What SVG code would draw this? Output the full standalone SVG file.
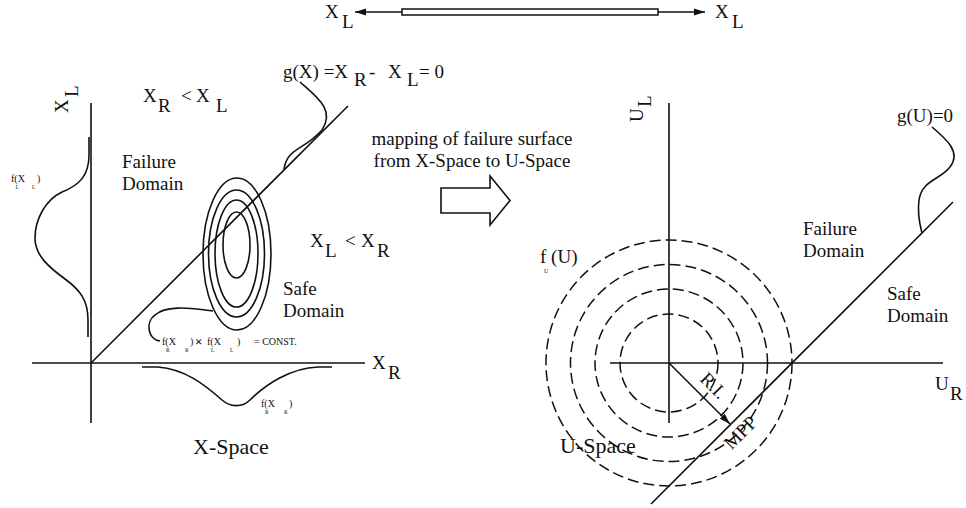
<svg xmlns="http://www.w3.org/2000/svg" width="966" height="508" viewBox="0 0 966 508">
<style>
.t{font-family:"Liberation Serif","Times New Roman",serif;font-size:19px;fill:#111}
.s{font-size:10px}
.ss{font-size:5.5px}
.x13{font-size:13px;font-weight:bold}
.u6{font-size:6px}
.big{font-size:22px}
.ln{stroke:#111;stroke-width:1.6;fill:none}
.dash{stroke:#111;stroke-width:1.5;fill:none;stroke-dasharray:11 5}
</style>
<defs>
<marker id="ah" markerUnits="userSpaceOnUse" markerWidth="12" markerHeight="8" refX="11" refY="4" orient="auto">
<path d="M0,0.5 L11,4 L0,7.5 z" fill="#111"/>
</marker>
</defs>
<rect width="966" height="508" fill="#fff"/>

<g id="top-bar">
<line class="ln" x1="402" y1="12" x2="355" y2="12" stroke-width="2.2" marker-end="url(#ah)"/>
<line class="ln" x1="658" y1="12" x2="705" y2="12" stroke-width="2.2" marker-end="url(#ah)"/>
<rect x="402" y="9" width="256" height="6" fill="#fff" stroke="#111" stroke-width="1.5"/>
<text class="t" x="325" y="18">X</text><text class="t" x="342" y="28">L</text>
<text class="t" x="715" y="18">X</text><text class="t" x="732" y="28">L</text>
</g>

<g id="x-space">
<line class="ln" x1="91" y1="103" x2="91" y2="423"/>
<line class="ln" x1="32" y1="363" x2="365" y2="363"/>
<line class="ln" x1="91" y1="363" x2="348" y2="106"/>
<g transform="translate(68,113) rotate(-90)"><text class="t" x="0" y="0">X</text><text class="t" x="16" y="10">L</text></g>
<text class="t" x="372" y="369">X</text><text class="t" x="388" y="379">R</text>
<path class="ln" d="M89,137 L89,155 C89,175 80,185 62,192 C45,200 35,220 35,238 C35,256 50,268 65,279 C80,290 88,300 88,320 L88,337"/>
<path class="ln" d="M142,367 L158,367 C185,369 205,385 222,400 C230,407 242,408 250,400 C265,385 290,368 318,367 L332,367"/>
<ellipse class="ln" cx="237" cy="254" rx="34" ry="76"/>
<ellipse class="ln" cx="236.5" cy="253.5" rx="28" ry="63.5"/>
<ellipse class="ln" cx="236.5" cy="253.5" rx="21.5" ry="53.5"/>
<ellipse class="ln" cx="236.5" cy="245" rx="13.5" ry="33"/>
<path class="ln" d="M300,82 C318,98 335,110 322,130 C305,150 286,148 284,170"/>
<path class="ln" d="M160,341 C148,340 145,322 155,315 C165,306 185,307 213,311"/>
<text class="t" x="283" y="78">g(X) =X</text><text class="t" x="354" y="86">R</text><text class="t" x="369" y="78">-</text><text class="t" x="388" y="78">X</text><text class="t" x="407" y="86">L</text><text class="t" x="419" y="78">= 0</text>
<text class="t" x="143" y="102">X</text><text class="t" x="158" y="112">R</text><text class="t" x="181" y="102">&lt;</text><text class="t" x="196" y="102">X</text><text class="t" x="216" y="112">L</text>
<text class="t" x="310" y="247">X</text><text class="t" x="325" y="257">L</text><text class="t" x="345" y="247">&lt;</text><text class="t" x="361" y="247">X</text><text class="t" x="377" y="257">R</text>
<text class="t" x="122" y="168">Failure</text><text class="t" x="122" y="190">Domain</text>
<text class="t" x="283" y="295">Safe</text><text class="t" x="283" y="317">Domain</text>
<text class="t s" x="11" y="182">f(X<tspan x="37">)</tspan></text><text class="t ss" x="15.5" y="189">L</text><text class="t ss" x="32" y="189">L</text>
<text class="t s" x="162" y="345">f(X<tspan x="190">)</tspan></text><text class="t ss" x="166" y="352">R</text><text class="t ss" x="185" y="352">R</text>
<text class="t x13" x="195" y="346">×</text>
<text class="t s" x="207" y="345">f(X<tspan x="237">)</tspan><tspan x="254">= CONST.</tspan></text><text class="t ss" x="211" y="352">L</text><text class="t ss" x="230" y="352">L</text>
<text class="t s" x="261" y="407">f(X<tspan x="289">)</tspan></text><text class="t ss" x="265" y="414">R</text><text class="t ss" x="284" y="414">R</text>
<text class="t big" x="193" y="454">X-Space</text>
</g>

<g id="mapping">
<text class="t" x="472" y="145" text-anchor="middle">mapping of failure surface</text>
<text class="t" x="472" y="167" text-anchor="middle">from X-Space to U-Space</text>
<polygon class="ln" points="441,188 490,188 490,176 510,200.5 490,225 490,213 441,213"/>
</g>

<g id="u-space">
<circle class="dash" cx="669" cy="363" r="49"/>
<circle class="dash" cx="669" cy="363" r="74"/>
<circle class="dash" cx="669" cy="363" r="98.5"/>
<circle class="dash" cx="669" cy="363" r="123"/>
<line class="ln" x1="669" y1="103" x2="669" y2="423"/>
<line class="ln" x1="610" y1="363" x2="943" y2="363"/>
<line class="ln" x1="651" y1="504" x2="953" y2="202"/>
<line class="ln" x1="669" y1="363" x2="730" y2="424" marker-end="url(#ah)"/>
<path class="ln" d="M932,127 C945,138 962,152 950,167 C940,180 922,180 919,200 C917,215 920,225 922,233"/>
<g transform="translate(643,122) rotate(-90)"><text class="t" x="0" y="0">U</text><text class="t" x="15" y="8">L</text></g>
<text class="t" x="935" y="390">U</text><text class="t" x="950" y="400">R</text>
<text class="t" x="897" y="122">g(U)=0</text>
<text class="t" x="540" y="263">f (U)</text><text class="t u6" x="544" y="273">U</text>
<text class="t" x="803" y="235">Failure</text><text class="t" x="803" y="257">Domain</text>
<text class="t" x="887" y="300">Safe</text><text class="t" x="887" y="322">Domain</text>
<text class="t" text-anchor="middle" transform="translate(709,390) rotate(45)">R.I.</text>
<text class="t" text-anchor="middle" transform="translate(745,437) rotate(-45)">MPP</text>
<text class="t big" x="560" y="453">U-Space</text>
</g>
</svg>
